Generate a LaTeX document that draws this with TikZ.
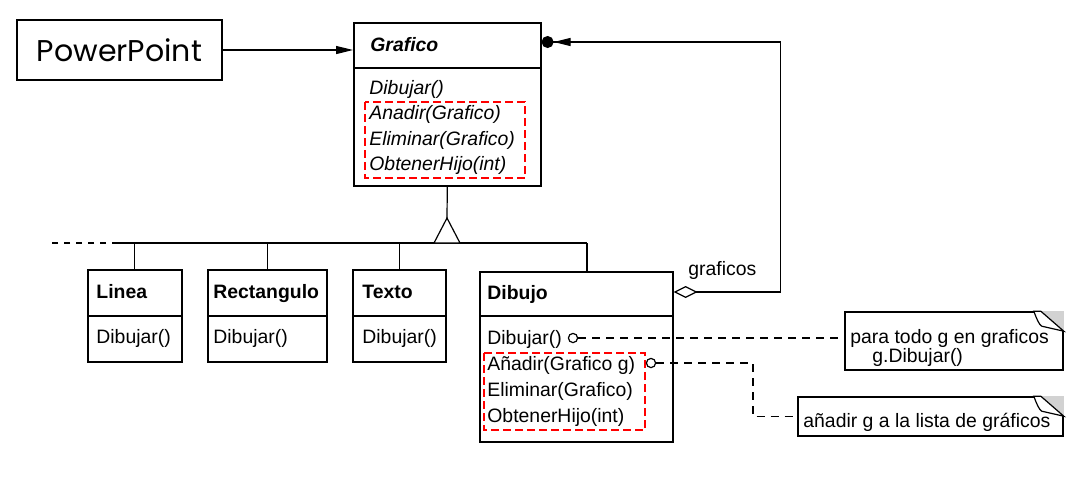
\documentclass[tikz,border=0pt]{standalone}
\usepackage{fontspec}
\setmainfont{Liberation Sans}
\newfontfamily\ppfont{Poppins}
\usetikzlibrary{arrows.meta,positioning}

\begin{document}
\begin{tikzpicture}[
	x = 0.5pt, y = -0.5pt,
	every node/.style = {font = \fontsize{9.7pt}{12pt}\selectfont},
	classbox/.style = {draw, line width = 0.8pt, inner sep = 0pt, anchor = north west},
	txt/.style = {anchor = base west, inner sep = 0pt},
	op/.style = {circle, draw, fill = white, inner sep = 0pt, minimum size = 4.6pt, line width = 0.6pt},
	redbox/.style = {draw = red, line width = 1.1pt, dash pattern = on 4pt off 2pt},
	note/.style = {draw, line width = 0.8pt, inner sep = 0pt},
	link/.style = {line width = 0.6pt, dash pattern = on 4pt off 3pt}
	]
	
	\useasboundingbox (0,0) rectangle (1077,494);
	
	% client
	\node[draw, line width = 1.3pt, minimum width = 102.5pt, minimum height = 30pt, inner sep = 0pt] (pp) at (119.5,50) {\ppfont\fontsize{15pt}{18pt}\selectfont PowerPoint};
	
	% component
	\node[classbox, minimum width = 93.5pt, minimum height = 81.5pt] (grafico) at (353,22) {};
	\node[txt] (gtitle) at (370,51) {\bfseries\itshape Grafico};
	\node[txt] (gdib) at (369,94) {\itshape Dibujar()};
	\node[txt] (gadd) at (369,119) {\itshape Anadir(Grafico)};
	\node[txt] (gdel) at (369,145) {\itshape Eliminar(Grafico)};
	\node[txt] (gget) at (369,170) {\itshape ObtenerHijo(int)};
	\draw[redbox] (365,102) rectangle (525,178);
	
	\draw[line width = 0.6pt, -{Triangle[length = 8.5pt, width = 4pt]}] (pp.east) -- (pp.east -| grafico.west);
	
	% leaves
	\node[classbox, minimum width = 47pt, minimum height = 46pt] (linea) at (87,269) {};
	\node[classbox, right = 12.2pt of linea.north east, anchor = north west, minimum width = 59.5pt, minimum height = 46pt] (rect) {};
	\node[classbox, right = 12.2pt of rect.north east, anchor = north west, minimum width = 46.5pt, minimum height = 46pt] (texto) {};
	\node[txt] (ltitle) at (96,298) {\bfseries Linea};
	\node[txt] (ldib) at (96,343) {Dibujar()};
	\node[txt] (rtitle) at (213,298) {\bfseries Rectangulo};
	\node[txt] (rdib) at (213,343) {Dibujar()};
	\node[txt] (ttitle) at (362,298) {\bfseries Texto};
	\node[txt] (tdib) at (362,343) {Dibujar()};
	
	% composite
	\node[classbox, minimum width = 96.5pt, minimum height = 85pt] (dibujo) at (479,271) {};
	\node[txt] (dtitle) at (487,299) {\bfseries Dibujo};
	\node[txt] (ddib) at (487,344) {Dibujar()};
	\node[txt] (dadd) at (487,370) {Añadir(Grafico g)};
	\node[txt] (ddel) at (487,396) {Eliminar(Grafico)};
	\node[txt] (dget) at (487,422) {ObtenerHijo(int)};
	\draw[redbox] (484,353) rectangle (645,430);
	
	\foreach \c/\d in {grafico/23pt, linea/23.5pt, rect/23.5pt, texto/23.5pt, dibujo/22.5pt}
		\draw[line width = 0.8pt] ([yshift = -\d]\c.north west) -- ([yshift = -\d]\c.north east);
	
	% inheritance
	\coordinate (busL) at (118,243);
	\coordinate (busR) at (587,243);
	\coordinate (apex) at (447,218);
	\draw[line width = 0.6pt] (busL) -- (busR);
	\draw[line width = 0.6pt, dashed] (busL) -- ++(-70,0);
	\draw[line width = 0.6pt] (grafico.south) -- (apex);
	\draw[line width = 0.6pt, fill = white] (apex) -- ++(-13,25) -- ++(26,0) -- cycle;
	\foreach \c in {linea, rect, texto}
		\draw[line width = 0.6pt] (\c.north) -- (\c.north |- busL);
	\draw[line width = 0.6pt] (busR) -- (busR |- dibujo.north);
	
	% children
	\draw[line width = 0.6pt, {Diamond[open, length = 12pt, width = 6pt]}-{Triangle[length = 8.5pt, width = 4pt] Circle[length = 6pt]}]
		([yshift = -10.5pt]dibujo.north east) -- ++(107,0) |- ([yshift = -10pt]grafico.north east);
	\node[txt] (glabel) at (688,275) {graficos};
	
	% notes
	\node[note, minimum width = 109pt, minimum height = 29pt] (note1) at (954,341) {};
	\node[txt] (n1a) at (850,343) {para todo g en graficos};
	\node[txt] (n1b) at (872,362) {g.Dibujar()};
	\node[note, minimum width = 132.5pt, minimum height = 19.5pt] (note2) at (930.5,416.5) {};
	\node[txt] (n2a) at (803,427) {añadir g a la lista de gráficos};
	\foreach \n in {note1, note2} {
		\fill[gray!35] ([xshift = -11.5pt]\n.north east) -- (\n.north east) -- ([yshift = -10pt]\n.north east) -- cycle;
		\draw[line width = 0.6pt, fill = white] ([xshift = -15pt]\n.north east) .. controls ([xshift = -13.5pt, yshift = -4pt]\n.north east) and ([xshift = -12.5pt, yshift = -6.5pt]\n.north east) .. ([xshift = -11pt, yshift = -7.5pt]\n.north east) -- ([yshift = -10pt]\n.north east) -- ([xshift = -11.5pt]\n.north east) -- cycle;
	}
	
	\node[op] (odib) at (573,338) {};
	\node[op] (oadd) at (651,363) {};
	\draw[link] (odib) -- (odib -| note1.west);
	\draw[link] (oadd) -- ++(102,0) |- (note2.west);

\end{tikzpicture}
\end{document}
